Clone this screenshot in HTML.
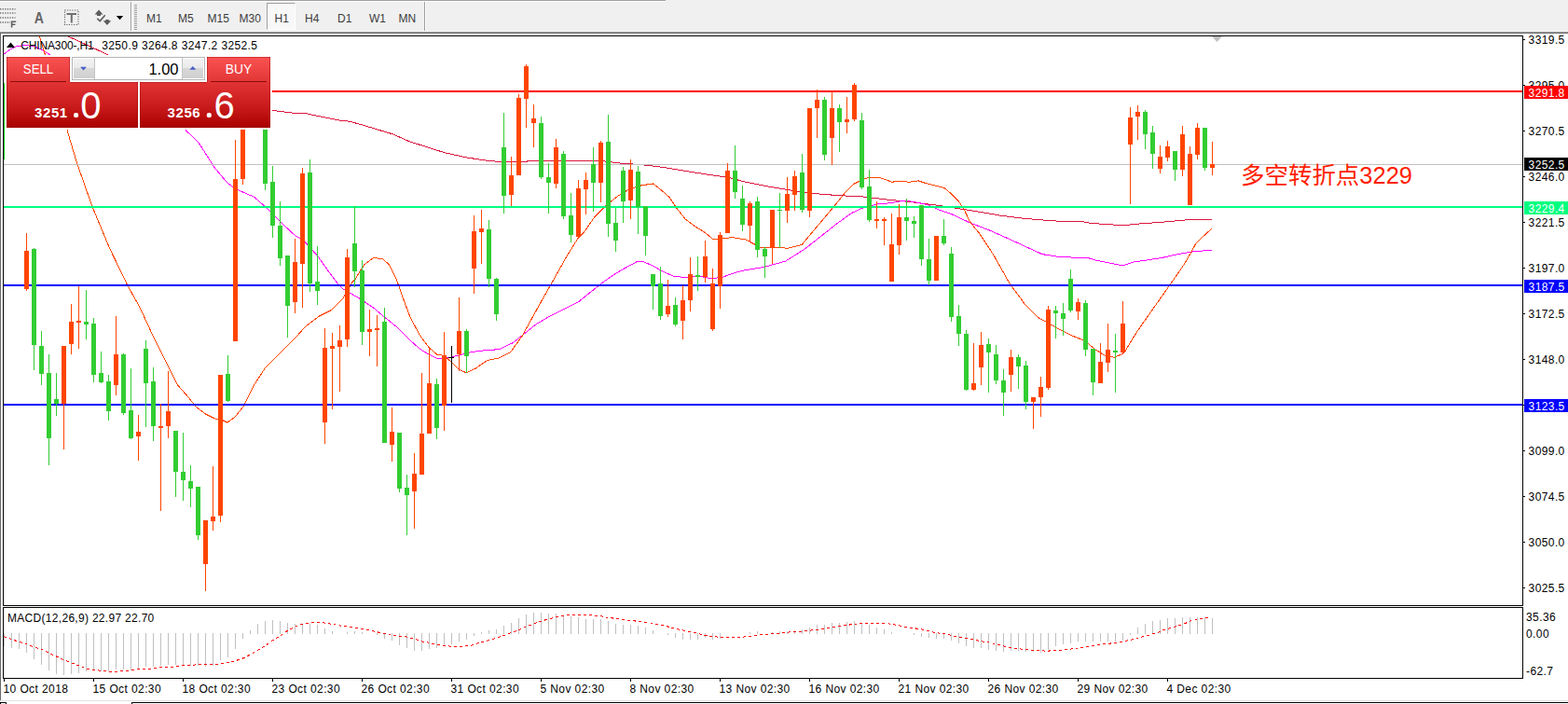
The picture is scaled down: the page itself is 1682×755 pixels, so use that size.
<!DOCTYPE html>
<html><head><meta charset="utf-8"><title>CHINA300-,H1</title>
<style>
html,body{margin:0;padding:0;}
body{width:1682px;height:755px;overflow:hidden;background:#f0f0f0;position:relative;font-family:"Liberation Sans",sans-serif;}
.abs{position:absolute;}
.t{position:absolute;white-space:nowrap;color:#000;font-size:12px;line-height:14px;}
.tb{position:absolute;white-space:nowrap;color:#3c3c3c;font-size:12px;line-height:14px;top:12.5px;}
.ax{position:absolute;white-space:nowrap;color:#000;font-size:12px;line-height:14px;left:1639.6px;letter-spacing:0.4px;}
.lab{position:absolute;left:1635px;width:47px;height:14px;color:#fff;font-size:12px;line-height:13px;white-space:nowrap;letter-spacing:0.4px;}
.lab span{position:absolute;left:4.6px;top:1.5px;}
.dt{position:absolute;white-space:nowrap;color:#000;font-size:12px;line-height:14px;top:732px;letter-spacing:0.4px;}
</style></head><body>

<div class="abs" style="left:0;top:0;width:714px;height:1px;background:#a0a0a0"></div>
<div class="abs" style="left:0;top:1px;width:714px;height:1px;background:#fff"></div>
<div class="abs" style="left:0;top:33px;width:1682px;height:1px;background:#f5f5f5"></div>
<div class="abs" style="left:0;top:34px;width:1682px;height:1px;background:#a0a0a0"></div>
<div class="abs" style="left:0;top:35px;width:1682px;height:1px;background:#696969"></div>
<div class="abs" style="left:0;top:36px;width:1682px;height:716px;background:#fff"></div>
<div class="abs" style="left:0;top:36px;width:1px;height:715px;background:#696969"></div>
<div class="abs" style="left:0;top:751px;width:1682px;height:1px;background:#e3e3e3"></div>
<div class="abs" style="left:0;top:752px;width:1682px;height:1px;background:#fff"></div>
<div class="abs" style="left:0;top:753px;width:1682px;height:2px;background:#fff"></div>
<div class="abs" style="left:0;top:753px;width:7px;height:2px;border:1px solid #000;border-bottom:0;box-sizing:border-box;background:#fff"></div>
<div class="abs" style="left:141px;top:753px;width:1541px;height:2px;border:1px solid #000;border-bottom:0;border-right:0;box-sizing:border-box;background:#fff"></div>
<div class="abs" style="left:140px;top:2px;width:1px;height:31px;background:#a0a0a0"></div><div class="abs" style="left:141px;top:2px;width:1px;height:31px;background:#fff"></div>
<div class="abs" style="left:455px;top:2px;width:1px;height:31px;background:#a0a0a0"></div><div class="abs" style="left:456px;top:2px;width:1px;height:31px;background:#fff"></div>
<div class="abs" style="left:144px;top:5px;width:3px;height:28px;background:repeating-linear-gradient(to bottom,#a0a0a0 0,#a0a0a0 1px,transparent 1px,transparent 2px)"></div>
<div class="abs" style="left:286px;top:3px;width:31px;height:29px;box-sizing:border-box;border:1px solid;border-color:#a0a0a0 #fff #fff #a0a0a0;background:#f8f8f8"></div>
<div class="tb" style="left:157px">M1</div>
<div class="tb" style="left:191px">M5</div>
<div class="tb" style="left:222.5px">M15</div>
<div class="tb" style="left:256.5px">M30</div>
<div class="tb" style="left:294.5px">H1</div>
<div class="tb" style="left:327px">H4</div>
<div class="tb" style="left:362px">D1</div>
<div class="tb" style="left:396px">W1</div>
<div class="tb" style="left:427.5px">MN</div>
<svg class="abs" style="left:0;top:0" width="140" height="34" viewBox="0 0 140 34">
<g stroke="#707070" stroke-width="1.4" stroke-dasharray="1.3 1.3" fill="none">
<line x1="0" y1="9.7" x2="16.5" y2="9.7"/><line x1="0" y1="14" x2="16.5" y2="14"/><line x1="0" y1="19" x2="16.5" y2="19"/><line x1="0" y1="24" x2="11" y2="24"/></g>
<path d="M12.6 29.4V23.2H17.2M12.6 26.3H16.4" stroke="#606060" stroke-width="1.6" fill="none"/>
<text x="36.8" y="24.5" font-family="Liberation Sans, sans-serif" font-weight="bold" font-size="17" fill="#666" textLength="10.2" lengthAdjust="spacingAndGlyphs">A</text>
<rect x="69.5" y="11" width="14.5" height="15.5" fill="none" stroke="#606060" stroke-width="1.1" stroke-dasharray="1.2 1.4"/>
<path d="M71.5 15H82M76.8 15V24.6" stroke="#707070" stroke-width="2" fill="none"/>
<path d="M101.6 15.6 L106 10.4 L110.5 15.6 H108 V16.9 H104 V15.6 Z" fill="#5c5c5c"/>
<path d="M110.7 22.2 H113.3 V20.9 H116.8 V22.2 H119.2 L114.9 26.9 Z" fill="#5c5c5c"/>
<path d="M104.3 19.8 L107.3 22.6 L112.7 16.2" stroke="#5c5c5c" stroke-width="1.6" fill="none"/>
<path d="M124.8 17 H132.2 L128.5 21.3Z" fill="#000"/>
</svg>
<svg class="abs" style="left:0;top:0" width="1682" height="755" viewBox="0 0 1682 755">
<defs><clipPath id="cm"><rect x="4" y="39" width="1629" height="610"/></clipPath></defs>
<g shape-rendering="crispEdges"><rect x="3" y="38" width="1631" height="1" fill="#000"/><rect x="3" y="649" width="1631" height="1" fill="#000"/><rect x="3" y="38" width="1" height="612" fill="#000"/><rect x="1633" y="38" width="1" height="612" fill="#000"/><rect x="3" y="651" width="1631" height="1" fill="#000"/><rect x="3" y="727" width="1631" height="1" fill="#000"/><rect x="3" y="651" width="1" height="77" fill="#000"/><rect x="1633" y="651" width="1" height="77" fill="#000"/><rect x="1634" y="42" width="2" height="1" fill="#000"/><rect x="1634" y="91" width="2" height="1" fill="#000"/><rect x="1634" y="140" width="2" height="1" fill="#000"/><rect x="1634" y="189" width="2" height="1" fill="#000"/><rect x="1634" y="238" width="2" height="1" fill="#000"/><rect x="1634" y="287" width="2" height="1" fill="#000"/><rect x="1634" y="336" width="2" height="1" fill="#000"/><rect x="1634" y="385" width="2" height="1" fill="#000"/><rect x="1634" y="434" width="2" height="1" fill="#000"/><rect x="1634" y="483" width="2" height="1" fill="#000"/><rect x="1634" y="532" width="2" height="1" fill="#000"/><rect x="1634" y="581" width="2" height="1" fill="#000"/><rect x="1634" y="630" width="2" height="1" fill="#000"/><rect x="4" y="728" width="1" height="3" fill="#000"/><rect x="100" y="728" width="1" height="3" fill="#000"/><rect x="196" y="728" width="1" height="3" fill="#000"/><rect x="292" y="728" width="1" height="3" fill="#000"/><rect x="388" y="728" width="1" height="3" fill="#000"/><rect x="484" y="728" width="1" height="3" fill="#000"/><rect x="580" y="728" width="1" height="3" fill="#000"/><rect x="676" y="728" width="1" height="3" fill="#000"/><rect x="772" y="728" width="1" height="3" fill="#000"/><rect x="868" y="728" width="1" height="3" fill="#000"/><rect x="964" y="728" width="1" height="3" fill="#000"/><rect x="1060" y="728" width="1" height="3" fill="#000"/><rect x="1156" y="728" width="1" height="3" fill="#000"/><rect x="1252" y="728" width="1" height="3" fill="#000"/></g>
<g clip-path="url(#cm)">
<g shape-rendering="crispEdges"><polyline points="73.2,39.0 120.0,60.7" fill="none" stroke="#dc143c" stroke-width="1.0" stroke-linejoin="round"/><polyline points="292.0,118.4 313.4,121.1 326.7,121.4 346.7,125.6 363.4,128.9 375.1,130.3 388.5,133.9 405.1,139.0 421.8,144.0 438.5,151.5 457.6,157.6 477.6,163.9 500.1,168.9 520.2,171.9 535.2,173.4 555.2,173.9 570.2,172.6 590.2,172.1 637.8,172.1 650.3,173.1 665.3,175.1 687.9,176.6 712.9,179.6 737.9,183.9 763.0,187.7 780.5,190.2 800.0,195.2 825.0,200.2 850.0,204.4 875.1,207.7 900.1,209.7 925.2,210.9 950.2,213.9 975.2,216.4 1009.0,220.7 1025.3,223.2 1050.3,227.2 1075.3,231.5 1100.4,234.5 1125.4,236.5 1140.0,237.5 1160.3,237.5 1169.8,239.3 1185.3,240.5 1202.0,241.5 1206.7,241.5 1223.4,239.9 1240.1,238.7 1255.6,237.5 1265.1,236.4 1280.6,235.4 1299.7,235.4" fill="none" stroke="#dc143c" stroke-width="1.0" stroke-linejoin="round"/><polyline points="4.0,58.1 10.0,53.6 16.1,50.1 23.2,48.9 30.2,48.9 37.2,50.1 43.3,52.6 50.3,56.6 55.0,59.5" fill="none" stroke="#ff00ff" stroke-width="1.0" stroke-linejoin="round"/><polyline points="199.0,139.5 212.8,152.5 230.3,180.0 244.0,196.3 252.8,202.6 272.8,211.4 285.4,222.6 300.4,237.6 316.6,252.7 325.4,257.7 340.4,274.0 355.4,295.2 363.0,305.2 368.0,310.0 385.5,320.0 400.5,330.0 412.5,340.1 425.0,350.2 437.5,362.7 450.0,373.9 460.0,380.2 468.8,384.4 480.1,383.9 490.1,381.4 505.1,377.7 520.2,375.7 535.2,374.7 550.2,367.7 562.7,357.7 575.2,347.6 590.2,338.9 605.3,331.4 620.3,323.9 632.8,313.9 645.3,303.8 657.8,295.1 670.3,287.6 682.9,280.8 690.4,280.8 700.4,285.1 712.9,292.1 722.9,296.3 735.4,297.6 750.4,296.3 763.0,298.8 775.5,297.1 788.0,292.6 800.0,289.6 820.0,286.3 842.6,280.1 862.6,267.5 880.1,253.8 897.6,240.0 911.4,230.0 915.1,227.7 925.2,223.2 940.2,219.0 955.2,217.7 970.2,215.2 980.2,216.4 995.2,219.7 1007.8,225.2 1021.5,230.0 1040.3,238.8 1062.8,247.5 1087.9,258.8 1117.9,272.6 1137.9,275.8 1166.2,276.3 1175.8,279.3 1191.3,282.2 1202.0,284.4 1205.6,284.4 1216.3,281.0 1231.8,278.7 1247.3,276.3 1264.0,272.5 1280.6,269.7 1299.7,268.3" fill="none" stroke="#ff00ff" stroke-width="1.0" stroke-linejoin="round"/><polyline points="42.3,39.0 48.8,60.0" fill="none" stroke="#ff4500" stroke-width="1.0" stroke-linejoin="round"/><polyline points="72.0,139.5 82.6,175.0 98.9,221.4 117.6,266.4 136.4,305.2 144.0,319.0 150.2,330.0 165.2,362.6 180.2,392.6 190.2,412.6 200.3,423.9 210.3,436.4 220.3,443.9 230.3,448.9 237.8,450.2 244.0,453.2 252.8,446.4 261.6,435.2 272.8,412.6 284.1,395.1 300.4,378.8 315.4,363.8 327.9,350.0 342.9,338.8 355.4,332.5 368.0,320.0 378.0,302.5 380.5,300.2 390.5,284.0 400.5,276.4 410.5,277.7 417.5,283.8 425.0,298.8 432.5,320.1 440.0,340.1 450.0,358.9 460.0,372.7 468.8,380.2 476.3,381.4 485.1,389.0 492.6,396.5 500.1,399.7 510.1,395.2 522.7,386.4 535.2,383.9 547.7,377.7 560.2,360.2 572.7,337.6 585.2,315.1 595.2,297.6 607.8,275.1 620.3,255.0 626.5,249.0 637.8,232.7 650.3,220.2 662.8,210.2 675.3,202.7 687.9,198.9 700.4,196.9 707.9,202.7 717.9,211.4 725.4,222.7 735.4,235.2 745.4,242.7 755.4,248.8 765.5,257.0 773.0,256.3 785.5,254.5 800.0,257.0 815.0,265.0 830.0,265.0 845.1,266.3 860.1,262.5 872.6,247.5 885.1,232.7 897.6,217.7 907.6,205.2 915.1,197.7 925.2,192.7 932.7,190.2 942.7,190.2 950.2,192.7 956.4,195.2 965.2,194.4 975.2,195.2 985.2,193.9 992.7,196.4 1002.8,198.9 1012.8,201.4 1020.3,207.7 1027.8,215.2 1034.0,224.0 1040.3,237.7 1050.3,250.0 1065.3,272.6 1082.9,303.8 1100.4,327.6 1112.9,340.1 1122.9,345.6 1135.4,352.7 1150.4,360.2 1163.0,365.2 1175.5,375.2 1185.5,381.4 1195.5,383.2 1205.5,378.9 1213.0,366.4 1220.0,355.2 1266.3,289.4 1271.1,282.2 1277.1,271.5 1283.0,260.8 1289.0,255.1 1299.7,245.3" fill="none" stroke="#ff4500" stroke-width="1.0" stroke-linejoin="round"/></g>
<g shape-rendering="crispEdges"><rect x="4" y="176" width="1629" height="1" fill="#c0c0c0"/><rect x="292" y="97" width="1341" height="2" fill="#ff0000"/><rect x="4" y="221" width="1629" height="2" fill="#00ff7f"/><rect x="4" y="305" width="1629" height="2" fill="#0000ff"/><rect x="4" y="433" width="1629" height="2" fill="#0000ff"/></g>
<g shape-rendering="crispEdges"><rect x="4" y="89" width="1" height="82" fill="#00c800"/><rect x="28" y="250" width="1" height="62" fill="#ff4500"/><rect x="26" y="269" width="5" height="41" fill="#ff4500"/><rect x="36" y="266" width="1" height="131" fill="#32cd32"/><rect x="34" y="267" width="5" height="103" fill="#32cd32"/><rect x="44" y="355" width="1" height="58" fill="#32cd32"/><rect x="42" y="371" width="5" height="30" fill="#32cd32"/><rect x="52" y="380" width="1" height="119" fill="#32cd32"/><rect x="50" y="400" width="5" height="70" fill="#32cd32"/><rect x="60" y="400" width="1" height="46" fill="#32cd32"/><rect x="58" y="428" width="5" height="5" fill="#32cd32"/><rect x="68" y="371" width="1" height="111" fill="#ff4500"/><rect x="66" y="371" width="5" height="62" fill="#ff4500"/><rect x="76" y="326" width="1" height="54" fill="#ff4500"/><rect x="74" y="345" width="5" height="24" fill="#ff4500"/><rect x="84" y="307" width="1" height="67" fill="#ff4500"/><rect x="82" y="344" width="5" height="2" fill="#ff4500"/><rect x="92" y="311" width="1" height="53" fill="#32cd32"/><rect x="90" y="345" width="5" height="3" fill="#32cd32"/><rect x="100" y="341" width="1" height="69" fill="#32cd32"/><rect x="98" y="347" width="5" height="55" fill="#32cd32"/><rect x="108" y="377" width="1" height="34" fill="#32cd32"/><rect x="106" y="400" width="5" height="10" fill="#32cd32"/><rect x="116" y="402" width="1" height="49" fill="#32cd32"/><rect x="114" y="409" width="5" height="32" fill="#32cd32"/><rect x="124" y="339" width="1" height="85" fill="#ff4500"/><rect x="122" y="380" width="5" height="33" fill="#ff4500"/><rect x="132" y="379" width="1" height="66" fill="#32cd32"/><rect x="130" y="380" width="5" height="63" fill="#32cd32"/><rect x="140" y="395" width="1" height="76" fill="#32cd32"/><rect x="138" y="440" width="5" height="30" fill="#32cd32"/><rect x="148" y="445" width="1" height="49" fill="#ff4500"/><rect x="146" y="463" width="5" height="5" fill="#ff4500"/><rect x="156" y="365" width="1" height="93" fill="#32cd32"/><rect x="154" y="374" width="5" height="37" fill="#32cd32"/><rect x="164" y="394" width="1" height="79" fill="#32cd32"/><rect x="162" y="409" width="5" height="48" fill="#32cd32"/><rect x="172" y="433" width="1" height="115" fill="#ff4500"/><rect x="170" y="457" width="5" height="2" fill="#ff4500"/><rect x="180" y="398" width="1" height="72" fill="#ff4500"/><rect x="178" y="441" width="5" height="16" fill="#ff4500"/><rect x="188" y="462" width="1" height="71" fill="#32cd32"/><rect x="186" y="462" width="5" height="44" fill="#32cd32"/><rect x="196" y="464" width="1" height="73" fill="#32cd32"/><rect x="194" y="506" width="5" height="9" fill="#32cd32"/><rect x="204" y="499" width="1" height="45" fill="#32cd32"/><rect x="202" y="516" width="5" height="8" fill="#32cd32"/><rect x="212" y="522" width="1" height="57" fill="#32cd32"/><rect x="210" y="522" width="5" height="52" fill="#32cd32"/><rect x="220" y="558" width="1" height="76" fill="#ff4500"/><rect x="218" y="558" width="5" height="47" fill="#ff4500"/><rect x="228" y="500" width="1" height="69" fill="#ff4500"/><rect x="226" y="554" width="5" height="5" fill="#ff4500"/><rect x="236" y="402" width="1" height="158" fill="#ff4500"/><rect x="234" y="402" width="5" height="151" fill="#ff4500"/><rect x="244" y="381" width="1" height="50" fill="#32cd32"/><rect x="242" y="401" width="5" height="29" fill="#32cd32"/><rect x="252" y="150" width="1" height="216" fill="#ff4500"/><rect x="250" y="192" width="5" height="174" fill="#ff4500"/><rect x="260" y="100" width="1" height="98" fill="#ff4500"/><rect x="258" y="110" width="5" height="82" fill="#ff4500"/><rect x="284" y="110" width="1" height="94" fill="#32cd32"/><rect x="282" y="120" width="5" height="77" fill="#32cd32"/><rect x="292" y="178" width="1" height="77" fill="#32cd32"/><rect x="290" y="195" width="5" height="47" fill="#32cd32"/><rect x="300" y="216" width="1" height="69" fill="#32cd32"/><rect x="298" y="242" width="5" height="35" fill="#32cd32"/><rect x="308" y="274" width="1" height="88" fill="#32cd32"/><rect x="306" y="274" width="5" height="54" fill="#32cd32"/><rect x="316" y="256" width="1" height="80" fill="#ff4500"/><rect x="314" y="281" width="5" height="43" fill="#ff4500"/><rect x="324" y="180" width="1" height="150" fill="#ff4500"/><rect x="322" y="186" width="5" height="97" fill="#ff4500"/><rect x="332" y="171" width="1" height="142" fill="#32cd32"/><rect x="330" y="185" width="5" height="119" fill="#32cd32"/><rect x="340" y="264" width="1" height="63" fill="#32cd32"/><rect x="338" y="302" width="5" height="10" fill="#32cd32"/><rect x="348" y="352" width="1" height="124" fill="#ff4500"/><rect x="346" y="373" width="5" height="80" fill="#ff4500"/><rect x="356" y="357" width="1" height="82" fill="#ff4500"/><rect x="354" y="371" width="5" height="3" fill="#ff4500"/><rect x="364" y="349" width="1" height="71" fill="#ff4500"/><rect x="362" y="365" width="5" height="7" fill="#ff4500"/><rect x="372" y="267" width="1" height="105" fill="#ff4500"/><rect x="370" y="276" width="5" height="88" fill="#ff4500"/><rect x="380" y="221" width="1" height="87" fill="#32cd32"/><rect x="378" y="261" width="5" height="30" fill="#32cd32"/><rect x="388" y="279" width="1" height="91" fill="#32cd32"/><rect x="386" y="290" width="5" height="66" fill="#32cd32"/><rect x="396" y="332" width="1" height="50" fill="#ff4500"/><rect x="394" y="353" width="5" height="3" fill="#ff4500"/><rect x="404" y="338" width="1" height="55" fill="#ff4500"/><rect x="402" y="352" width="5" height="2" fill="#ff4500"/><rect x="412" y="330" width="1" height="145" fill="#32cd32"/><rect x="410" y="345" width="5" height="130" fill="#32cd32"/><rect x="420" y="437" width="1" height="58" fill="#ff4500"/><rect x="418" y="463" width="5" height="14" fill="#ff4500"/><rect x="428" y="464" width="1" height="64" fill="#32cd32"/><rect x="426" y="464" width="5" height="60" fill="#32cd32"/><rect x="436" y="509" width="1" height="65" fill="#32cd32"/><rect x="434" y="523" width="5" height="8" fill="#32cd32"/><rect x="444" y="486" width="1" height="81" fill="#ff4500"/><rect x="442" y="508" width="5" height="19" fill="#ff4500"/><rect x="452" y="400" width="1" height="109" fill="#ff4500"/><rect x="450" y="465" width="5" height="44" fill="#ff4500"/><rect x="460" y="374" width="1" height="91" fill="#ff4500"/><rect x="458" y="411" width="5" height="54" fill="#ff4500"/><rect x="468" y="406" width="1" height="65" fill="#32cd32"/><rect x="466" y="412" width="5" height="47" fill="#32cd32"/><rect x="476" y="356" width="1" height="106" fill="#ff4500"/><rect x="474" y="381" width="5" height="54" fill="#ff4500"/><rect x="484" y="371" width="1" height="61" fill="#000"/><rect x="481" y="383" width="6" height="1" fill="#000"/><rect x="492" y="319" width="1" height="79" fill="#ff4500"/><rect x="490" y="355" width="5" height="25" fill="#ff4500"/><rect x="500" y="353" width="1" height="47" fill="#32cd32"/><rect x="498" y="355" width="5" height="27" fill="#32cd32"/><rect x="508" y="231" width="1" height="84" fill="#ff4500"/><rect x="506" y="248" width="5" height="40" fill="#ff4500"/><rect x="516" y="225" width="1" height="58" fill="#ff4500"/><rect x="514" y="245" width="5" height="4" fill="#ff4500"/><rect x="524" y="236" width="1" height="72" fill="#32cd32"/><rect x="522" y="246" width="5" height="53" fill="#32cd32"/><rect x="532" y="298" width="1" height="46" fill="#32cd32"/><rect x="530" y="299" width="5" height="38" fill="#32cd32"/><rect x="540" y="121" width="1" height="108" fill="#32cd32"/><rect x="538" y="158" width="5" height="52" fill="#32cd32"/><rect x="548" y="168" width="1" height="53" fill="#ff4500"/><rect x="546" y="188" width="5" height="21" fill="#ff4500"/><rect x="556" y="101" width="1" height="87" fill="#ff4500"/><rect x="554" y="105" width="5" height="83" fill="#ff4500"/><rect x="564" y="69" width="1" height="68" fill="#ff4500"/><rect x="562" y="71" width="5" height="35" fill="#ff4500"/><rect x="572" y="112" width="1" height="46" fill="#ff4500"/><rect x="570" y="127" width="5" height="5" fill="#ff4500"/><rect x="580" y="125" width="1" height="67" fill="#32cd32"/><rect x="578" y="132" width="5" height="58" fill="#32cd32"/><rect x="588" y="175" width="1" height="54" fill="#32cd32"/><rect x="586" y="190" width="5" height="6" fill="#32cd32"/><rect x="596" y="149" width="1" height="53" fill="#ff4500"/><rect x="594" y="158" width="5" height="39" fill="#ff4500"/><rect x="604" y="162" width="1" height="73" fill="#32cd32"/><rect x="602" y="165" width="5" height="67" fill="#32cd32"/><rect x="612" y="207" width="1" height="53" fill="#32cd32"/><rect x="610" y="231" width="5" height="21" fill="#32cd32"/><rect x="620" y="193" width="1" height="61" fill="#ff4500"/><rect x="618" y="202" width="5" height="52" fill="#ff4500"/><rect x="628" y="185" width="1" height="45" fill="#ff4500"/><rect x="626" y="193" width="5" height="10" fill="#ff4500"/><rect x="636" y="158" width="1" height="69" fill="#32cd32"/><rect x="634" y="176" width="5" height="20" fill="#32cd32"/><rect x="644" y="151" width="1" height="66" fill="#ff4500"/><rect x="642" y="153" width="5" height="43" fill="#ff4500"/><rect x="652" y="123" width="1" height="131" fill="#32cd32"/><rect x="650" y="152" width="5" height="88" fill="#32cd32"/><rect x="660" y="223" width="1" height="47" fill="#32cd32"/><rect x="658" y="239" width="5" height="19" fill="#32cd32"/><rect x="668" y="179" width="1" height="60" fill="#32cd32"/><rect x="666" y="183" width="5" height="33" fill="#32cd32"/><rect x="676" y="171" width="1" height="64" fill="#ff4500"/><rect x="674" y="182" width="5" height="33" fill="#ff4500"/><rect x="684" y="178" width="1" height="73" fill="#32cd32"/><rect x="682" y="184" width="5" height="38" fill="#32cd32"/><rect x="692" y="221" width="1" height="53" fill="#32cd32"/><rect x="690" y="221" width="5" height="32" fill="#32cd32"/><rect x="700" y="294" width="1" height="38" fill="#32cd32"/><rect x="698" y="294" width="5" height="13" fill="#32cd32"/><rect x="708" y="286" width="1" height="57" fill="#32cd32"/><rect x="706" y="304" width="5" height="35" fill="#32cd32"/><rect x="716" y="300" width="1" height="40" fill="#ff4500"/><rect x="714" y="328" width="5" height="9" fill="#ff4500"/><rect x="724" y="319" width="1" height="31" fill="#32cd32"/><rect x="722" y="327" width="5" height="21" fill="#32cd32"/><rect x="732" y="306" width="1" height="58" fill="#ff4500"/><rect x="730" y="322" width="5" height="22" fill="#ff4500"/><rect x="740" y="276" width="1" height="58" fill="#ff4500"/><rect x="738" y="294" width="5" height="28" fill="#ff4500"/><rect x="748" y="275" width="1" height="37" fill="#32cd32"/><rect x="746" y="295" width="5" height="2" fill="#32cd32"/><rect x="756" y="258" width="1" height="45" fill="#ff4500"/><rect x="754" y="275" width="5" height="22" fill="#ff4500"/><rect x="764" y="288" width="1" height="67" fill="#ff4500"/><rect x="762" y="304" width="5" height="49" fill="#ff4500"/><rect x="772" y="249" width="1" height="82" fill="#ff4500"/><rect x="770" y="252" width="5" height="55" fill="#ff4500"/><rect x="780" y="175" width="1" height="75" fill="#ff4500"/><rect x="778" y="183" width="5" height="67" fill="#ff4500"/><rect x="788" y="156" width="1" height="57" fill="#32cd32"/><rect x="786" y="183" width="5" height="23" fill="#32cd32"/><rect x="796" y="199" width="1" height="49" fill="#32cd32"/><rect x="794" y="213" width="5" height="28" fill="#32cd32"/><rect x="804" y="216" width="1" height="43" fill="#ff4500"/><rect x="802" y="218" width="5" height="24" fill="#ff4500"/><rect x="812" y="211" width="1" height="65" fill="#32cd32"/><rect x="810" y="216" width="5" height="52" fill="#32cd32"/><rect x="820" y="265" width="1" height="33" fill="#32cd32"/><rect x="818" y="267" width="5" height="8" fill="#32cd32"/><rect x="828" y="225" width="1" height="58" fill="#ff4500"/><rect x="826" y="225" width="5" height="41" fill="#ff4500"/><rect x="836" y="207" width="1" height="59" fill="#32cd32"/><rect x="834" y="225" width="5" height="1" fill="#32cd32"/><rect x="844" y="190" width="1" height="49" fill="#ff4500"/><rect x="842" y="208" width="5" height="18" fill="#ff4500"/><rect x="852" y="183" width="1" height="43" fill="#ff4500"/><rect x="850" y="189" width="5" height="20" fill="#ff4500"/><rect x="860" y="165" width="1" height="63" fill="#32cd32"/><rect x="858" y="185" width="5" height="40" fill="#32cd32"/><rect x="868" y="116" width="1" height="117" fill="#ff4500"/><rect x="866" y="116" width="5" height="110" fill="#ff4500"/><rect x="876" y="96" width="1" height="52" fill="#ff4500"/><rect x="874" y="107" width="5" height="9" fill="#ff4500"/><rect x="884" y="104" width="1" height="68" fill="#32cd32"/><rect x="882" y="107" width="5" height="59" fill="#32cd32"/><rect x="892" y="97" width="1" height="80" fill="#ff4500"/><rect x="890" y="116" width="5" height="32" fill="#ff4500"/><rect x="900" y="112" width="1" height="51" fill="#32cd32"/><rect x="898" y="116" width="5" height="15" fill="#32cd32"/><rect x="908" y="104" width="1" height="39" fill="#ff4500"/><rect x="906" y="128" width="5" height="3" fill="#ff4500"/><rect x="916" y="89" width="1" height="41" fill="#ff4500"/><rect x="914" y="91" width="5" height="37" fill="#ff4500"/><rect x="924" y="121" width="1" height="82" fill="#32cd32"/><rect x="922" y="129" width="5" height="72" fill="#32cd32"/><rect x="932" y="182" width="1" height="56" fill="#32cd32"/><rect x="930" y="200" width="5" height="36" fill="#32cd32"/><rect x="940" y="216" width="1" height="29" fill="#ff4500"/><rect x="938" y="235" width="5" height="2" fill="#ff4500"/><rect x="948" y="233" width="1" height="30" fill="#ff4500"/><rect x="946" y="235" width="5" height="2" fill="#ff4500"/><rect x="956" y="229" width="1" height="73" fill="#ff4500"/><rect x="954" y="262" width="5" height="40" fill="#ff4500"/><rect x="964" y="219" width="1" height="54" fill="#ff4500"/><rect x="962" y="233" width="5" height="30" fill="#ff4500"/><rect x="972" y="213" width="1" height="45" fill="#32cd32"/><rect x="970" y="233" width="5" height="4" fill="#32cd32"/><rect x="980" y="232" width="1" height="23" fill="#32cd32"/><rect x="978" y="237" width="5" height="3" fill="#32cd32"/><rect x="988" y="220" width="1" height="65" fill="#32cd32"/><rect x="986" y="220" width="5" height="58" fill="#32cd32"/><rect x="996" y="256" width="1" height="50" fill="#32cd32"/><rect x="994" y="278" width="5" height="23" fill="#32cd32"/><rect x="1004" y="253" width="1" height="48" fill="#ff4500"/><rect x="1002" y="253" width="5" height="48" fill="#ff4500"/><rect x="1012" y="235" width="1" height="28" fill="#32cd32"/><rect x="1010" y="253" width="5" height="8" fill="#32cd32"/><rect x="1020" y="265" width="1" height="80" fill="#32cd32"/><rect x="1018" y="272" width="5" height="68" fill="#32cd32"/><rect x="1028" y="327" width="1" height="44" fill="#32cd32"/><rect x="1026" y="339" width="5" height="19" fill="#32cd32"/><rect x="1036" y="354" width="1" height="65" fill="#32cd32"/><rect x="1034" y="358" width="5" height="60" fill="#32cd32"/><rect x="1044" y="368" width="1" height="51" fill="#ff4500"/><rect x="1042" y="411" width="5" height="7" fill="#ff4500"/><rect x="1052" y="356" width="1" height="57" fill="#ff4500"/><rect x="1050" y="370" width="5" height="24" fill="#ff4500"/><rect x="1060" y="363" width="1" height="58" fill="#32cd32"/><rect x="1058" y="369" width="5" height="9" fill="#32cd32"/><rect x="1068" y="370" width="1" height="42" fill="#32cd32"/><rect x="1066" y="380" width="5" height="28" fill="#32cd32"/><rect x="1076" y="396" width="1" height="50" fill="#32cd32"/><rect x="1074" y="408" width="5" height="13" fill="#32cd32"/><rect x="1084" y="375" width="1" height="45" fill="#ff4500"/><rect x="1082" y="383" width="5" height="19" fill="#ff4500"/><rect x="1092" y="380" width="1" height="37" fill="#32cd32"/><rect x="1090" y="383" width="5" height="10" fill="#32cd32"/><rect x="1100" y="387" width="1" height="52" fill="#32cd32"/><rect x="1098" y="392" width="5" height="39" fill="#32cd32"/><rect x="1108" y="426" width="1" height="34" fill="#ff4500"/><rect x="1106" y="426" width="5" height="5" fill="#ff4500"/><rect x="1116" y="404" width="1" height="43" fill="#ff4500"/><rect x="1114" y="415" width="5" height="11" fill="#ff4500"/><rect x="1124" y="328" width="1" height="90" fill="#ff4500"/><rect x="1122" y="332" width="5" height="84" fill="#ff4500"/><rect x="1132" y="328" width="1" height="35" fill="#32cd32"/><rect x="1130" y="333" width="5" height="3" fill="#32cd32"/><rect x="1140" y="325" width="1" height="35" fill="#32cd32"/><rect x="1138" y="336" width="5" height="6" fill="#32cd32"/><rect x="1148" y="289" width="1" height="46" fill="#32cd32"/><rect x="1146" y="299" width="5" height="34" fill="#32cd32"/><rect x="1156" y="320" width="1" height="23" fill="#ff4500"/><rect x="1154" y="324" width="5" height="10" fill="#ff4500"/><rect x="1164" y="322" width="1" height="60" fill="#32cd32"/><rect x="1162" y="325" width="5" height="50" fill="#32cd32"/><rect x="1172" y="374" width="1" height="50" fill="#32cd32"/><rect x="1170" y="374" width="5" height="36" fill="#32cd32"/><rect x="1180" y="368" width="1" height="43" fill="#ff4500"/><rect x="1178" y="388" width="5" height="23" fill="#ff4500"/><rect x="1188" y="347" width="1" height="52" fill="#ff4500"/><rect x="1186" y="375" width="5" height="14" fill="#ff4500"/><rect x="1196" y="358" width="1" height="63" fill="#32cd32"/><rect x="1194" y="376" width="5" height="2" fill="#32cd32"/><rect x="1204" y="323" width="1" height="57" fill="#ff4500"/><rect x="1202" y="347" width="5" height="31" fill="#ff4500"/><rect x="1212" y="115" width="1" height="104" fill="#ff4500"/><rect x="1210" y="126" width="5" height="29" fill="#ff4500"/><rect x="1220" y="113" width="1" height="37" fill="#ff4500"/><rect x="1218" y="120" width="5" height="5" fill="#ff4500"/><rect x="1228" y="118" width="1" height="42" fill="#32cd32"/><rect x="1226" y="120" width="5" height="24" fill="#32cd32"/><rect x="1236" y="135" width="1" height="46" fill="#32cd32"/><rect x="1234" y="142" width="5" height="23" fill="#32cd32"/><rect x="1244" y="156" width="1" height="30" fill="#ff4500"/><rect x="1242" y="168" width="5" height="13" fill="#ff4500"/><rect x="1252" y="151" width="1" height="22" fill="#ff4500"/><rect x="1250" y="157" width="5" height="12" fill="#ff4500"/><rect x="1260" y="162" width="1" height="32" fill="#32cd32"/><rect x="1258" y="162" width="5" height="20" fill="#32cd32"/><rect x="1268" y="135" width="1" height="54" fill="#ff4500"/><rect x="1266" y="144" width="5" height="38" fill="#ff4500"/><rect x="1276" y="157" width="1" height="63" fill="#ff4500"/><rect x="1274" y="165" width="5" height="55" fill="#ff4500"/><rect x="1284" y="132" width="1" height="39" fill="#ff4500"/><rect x="1282" y="137" width="5" height="29" fill="#ff4500"/><rect x="1292" y="137" width="1" height="46" fill="#32cd32"/><rect x="1290" y="137" width="5" height="43" fill="#32cd32"/><rect x="1300" y="152" width="1" height="36" fill="#ff4500"/><rect x="1298" y="176" width="5" height="4" fill="#ff4500"/></g>
<polygon points="1300,39 1311,39 1305.5,45" fill="#c0c0c0"/>
</g>
<g shape-rendering="crispEdges"><rect x="4" y="679" width="1" height="14" fill="#c0c0c0"/><rect x="12" y="679" width="1" height="16" fill="#c0c0c0"/><rect x="20" y="679" width="1" height="17" fill="#c0c0c0"/><rect x="28" y="679" width="1" height="21" fill="#c0c0c0"/><rect x="36" y="679" width="1" height="28" fill="#c0c0c0"/><rect x="44" y="679" width="1" height="34" fill="#c0c0c0"/><rect x="52" y="679" width="1" height="40" fill="#c0c0c0"/><rect x="60" y="679" width="1" height="44" fill="#c0c0c0"/><rect x="68" y="679" width="1" height="45" fill="#c0c0c0"/><rect x="76" y="679" width="1" height="44" fill="#c0c0c0"/><rect x="84" y="679" width="1" height="43" fill="#c0c0c0"/><rect x="92" y="679" width="1" height="41" fill="#c0c0c0"/><rect x="100" y="679" width="1" height="40" fill="#c0c0c0"/><rect x="108" y="679" width="1" height="41" fill="#c0c0c0"/><rect x="116" y="679" width="1" height="41" fill="#c0c0c0"/><rect x="124" y="679" width="1" height="39" fill="#c0c0c0"/><rect x="132" y="679" width="1" height="39" fill="#c0c0c0"/><rect x="140" y="679" width="1" height="40" fill="#c0c0c0"/><rect x="148" y="679" width="1" height="39" fill="#c0c0c0"/><rect x="156" y="679" width="1" height="36" fill="#c0c0c0"/><rect x="164" y="679" width="1" height="36" fill="#c0c0c0"/><rect x="172" y="679" width="1" height="35" fill="#c0c0c0"/><rect x="180" y="679" width="1" height="34" fill="#c0c0c0"/><rect x="188" y="679" width="1" height="34" fill="#c0c0c0"/><rect x="196" y="679" width="1" height="34" fill="#c0c0c0"/><rect x="204" y="679" width="1" height="35" fill="#c0c0c0"/><rect x="212" y="679" width="1" height="35" fill="#c0c0c0"/><rect x="220" y="679" width="1" height="36" fill="#c0c0c0"/><rect x="228" y="679" width="1" height="35" fill="#c0c0c0"/><rect x="236" y="679" width="1" height="29" fill="#c0c0c0"/><rect x="244" y="679" width="1" height="26" fill="#c0c0c0"/><rect x="252" y="679" width="1" height="17" fill="#c0c0c0"/><rect x="260" y="679" width="1" height="6" fill="#c0c0c0"/><rect x="268" y="676" width="1" height="4" fill="#c0c0c0"/><rect x="276" y="669" width="1" height="11" fill="#c0c0c0"/><rect x="284" y="666" width="1" height="14" fill="#c0c0c0"/><rect x="292" y="665" width="1" height="15" fill="#c0c0c0"/><rect x="300" y="666" width="1" height="14" fill="#c0c0c0"/><rect x="308" y="668" width="1" height="12" fill="#c0c0c0"/><rect x="316" y="669" width="1" height="11" fill="#c0c0c0"/><rect x="324" y="669" width="1" height="11" fill="#c0c0c0"/><rect x="332" y="669" width="1" height="11" fill="#c0c0c0"/><rect x="340" y="670" width="1" height="10" fill="#c0c0c0"/><rect x="348" y="674" width="1" height="6" fill="#c0c0c0"/><rect x="356" y="677" width="1" height="3" fill="#c0c0c0"/><rect x="372" y="678" width="1" height="2" fill="#c0c0c0"/><rect x="380" y="677" width="1" height="3" fill="#c0c0c0"/><rect x="388" y="678" width="1" height="2" fill="#c0c0c0"/><rect x="404" y="679" width="1" height="2" fill="#c0c0c0"/><rect x="412" y="679" width="1" height="6" fill="#c0c0c0"/><rect x="420" y="679" width="1" height="8" fill="#c0c0c0"/><rect x="428" y="679" width="1" height="13" fill="#c0c0c0"/><rect x="436" y="679" width="1" height="16" fill="#c0c0c0"/><rect x="444" y="679" width="1" height="19" fill="#c0c0c0"/><rect x="452" y="679" width="1" height="19" fill="#c0c0c0"/><rect x="460" y="679" width="1" height="17" fill="#c0c0c0"/><rect x="468" y="679" width="1" height="16" fill="#c0c0c0"/><rect x="476" y="679" width="1" height="14" fill="#c0c0c0"/><rect x="484" y="679" width="1" height="12" fill="#c0c0c0"/><rect x="492" y="679" width="1" height="9" fill="#c0c0c0"/><rect x="500" y="679" width="1" height="7" fill="#c0c0c0"/><rect x="508" y="679" width="1" height="3" fill="#c0c0c0"/><rect x="516" y="678" width="1" height="2" fill="#c0c0c0"/><rect x="524" y="676" width="1" height="4" fill="#c0c0c0"/><rect x="532" y="675" width="1" height="5" fill="#c0c0c0"/><rect x="540" y="671" width="1" height="9" fill="#c0c0c0"/><rect x="548" y="668" width="1" height="12" fill="#c0c0c0"/><rect x="556" y="663" width="1" height="17" fill="#c0c0c0"/><rect x="564" y="659" width="1" height="21" fill="#c0c0c0"/><rect x="572" y="657" width="1" height="23" fill="#c0c0c0"/><rect x="580" y="657" width="1" height="23" fill="#c0c0c0"/><rect x="588" y="658" width="1" height="22" fill="#c0c0c0"/><rect x="596" y="658" width="1" height="22" fill="#c0c0c0"/><rect x="604" y="660" width="1" height="20" fill="#c0c0c0"/><rect x="612" y="661" width="1" height="19" fill="#c0c0c0"/><rect x="620" y="662" width="1" height="18" fill="#c0c0c0"/><rect x="628" y="664" width="1" height="16" fill="#c0c0c0"/><rect x="636" y="664" width="1" height="16" fill="#c0c0c0"/><rect x="644" y="664" width="1" height="16" fill="#c0c0c0"/><rect x="652" y="666" width="1" height="14" fill="#c0c0c0"/><rect x="660" y="669" width="1" height="11" fill="#c0c0c0"/><rect x="668" y="670" width="1" height="10" fill="#c0c0c0"/><rect x="676" y="670" width="1" height="10" fill="#c0c0c0"/><rect x="684" y="671" width="1" height="9" fill="#c0c0c0"/><rect x="692" y="673" width="1" height="7" fill="#c0c0c0"/><rect x="700" y="676" width="1" height="4" fill="#c0c0c0"/><rect x="716" y="679" width="1" height="2" fill="#c0c0c0"/><rect x="724" y="679" width="1" height="5" fill="#c0c0c0"/><rect x="732" y="679" width="1" height="7" fill="#c0c0c0"/><rect x="740" y="679" width="1" height="7" fill="#c0c0c0"/><rect x="748" y="679" width="1" height="7" fill="#c0c0c0"/><rect x="756" y="679" width="1" height="5" fill="#c0c0c0"/><rect x="764" y="679" width="1" height="7" fill="#c0c0c0"/><rect x="772" y="679" width="1" height="6" fill="#c0c0c0"/><rect x="804" y="678" width="1" height="2" fill="#c0c0c0"/><rect x="812" y="677" width="1" height="3" fill="#c0c0c0"/><rect x="828" y="678" width="1" height="2" fill="#c0c0c0"/><rect x="836" y="677" width="1" height="3" fill="#c0c0c0"/><rect x="844" y="677" width="1" height="3" fill="#c0c0c0"/><rect x="852" y="676" width="1" height="4" fill="#c0c0c0"/><rect x="860" y="675" width="1" height="5" fill="#c0c0c0"/><rect x="868" y="673" width="1" height="7" fill="#c0c0c0"/><rect x="876" y="670" width="1" height="10" fill="#c0c0c0"/><rect x="884" y="670" width="1" height="10" fill="#c0c0c0"/><rect x="892" y="668" width="1" height="12" fill="#c0c0c0"/><rect x="900" y="668" width="1" height="12" fill="#c0c0c0"/><rect x="908" y="667" width="1" height="13" fill="#c0c0c0"/><rect x="916" y="666" width="1" height="14" fill="#c0c0c0"/><rect x="924" y="668" width="1" height="12" fill="#c0c0c0"/><rect x="932" y="670" width="1" height="10" fill="#c0c0c0"/><rect x="940" y="673" width="1" height="7" fill="#c0c0c0"/><rect x="948" y="675" width="1" height="5" fill="#c0c0c0"/><rect x="956" y="678" width="1" height="2" fill="#c0c0c0"/><rect x="980" y="679" width="1" height="2" fill="#c0c0c0"/><rect x="988" y="679" width="1" height="4" fill="#c0c0c0"/><rect x="996" y="679" width="1" height="5" fill="#c0c0c0"/><rect x="1004" y="679" width="1" height="6" fill="#c0c0c0"/><rect x="1012" y="679" width="1" height="6" fill="#c0c0c0"/><rect x="1020" y="679" width="1" height="8" fill="#c0c0c0"/><rect x="1028" y="679" width="1" height="11" fill="#c0c0c0"/><rect x="1036" y="679" width="1" height="14" fill="#c0c0c0"/><rect x="1044" y="679" width="1" height="16" fill="#c0c0c0"/><rect x="1052" y="679" width="1" height="16" fill="#c0c0c0"/><rect x="1060" y="679" width="1" height="18" fill="#c0c0c0"/><rect x="1068" y="679" width="1" height="19" fill="#c0c0c0"/><rect x="1076" y="679" width="1" height="20" fill="#c0c0c0"/><rect x="1084" y="679" width="1" height="19" fill="#c0c0c0"/><rect x="1092" y="679" width="1" height="19" fill="#c0c0c0"/><rect x="1100" y="679" width="1" height="20" fill="#c0c0c0"/><rect x="1108" y="679" width="1" height="20" fill="#c0c0c0"/><rect x="1116" y="679" width="1" height="21" fill="#c0c0c0"/><rect x="1124" y="679" width="1" height="18" fill="#c0c0c0"/><rect x="1132" y="679" width="1" height="14" fill="#c0c0c0"/><rect x="1140" y="679" width="1" height="12" fill="#c0c0c0"/><rect x="1148" y="679" width="1" height="11" fill="#c0c0c0"/><rect x="1156" y="679" width="1" height="9" fill="#c0c0c0"/><rect x="1164" y="679" width="1" height="9" fill="#c0c0c0"/><rect x="1172" y="679" width="1" height="9" fill="#c0c0c0"/><rect x="1180" y="679" width="1" height="9" fill="#c0c0c0"/><rect x="1188" y="679" width="1" height="9" fill="#c0c0c0"/><rect x="1196" y="679" width="1" height="9" fill="#c0c0c0"/><rect x="1204" y="679" width="1" height="8" fill="#c0c0c0"/><rect x="1212" y="679" width="1" height="2" fill="#c0c0c0"/><rect x="1220" y="673" width="1" height="7" fill="#c0c0c0"/><rect x="1228" y="669" width="1" height="11" fill="#c0c0c0"/><rect x="1236" y="666" width="1" height="14" fill="#c0c0c0"/><rect x="1244" y="665" width="1" height="15" fill="#c0c0c0"/><rect x="1252" y="663" width="1" height="17" fill="#c0c0c0"/><rect x="1260" y="663" width="1" height="17" fill="#c0c0c0"/><rect x="1268" y="662" width="1" height="18" fill="#c0c0c0"/><rect x="1276" y="662" width="1" height="18" fill="#c0c0c0"/><rect x="1284" y="662" width="1" height="18" fill="#c0c0c0"/><rect x="1292" y="662" width="1" height="18" fill="#c0c0c0"/><rect x="1300" y="663" width="1" height="17" fill="#c0c0c0"/></g>
<polyline points="4.0,682.5 12.0,685.4 20.0,688.2 28.0,690.7 36.0,693.7 43.9,696.2 51.9,699.9 59.9,703.7 67.9,707.4 75.9,710.4 83.9,713.7 91.9,716.9 99.9,718.4 107.9,719.2 115.9,720.2 123.8,720.2 131.8,719.9 139.8,719.2 147.8,717.9 155.8,717.4 163.8,716.9 171.8,715.7 179.8,715.4 187.8,714.9 195.8,713.9 203.7,713.2 211.7,712.9 219.7,712.9 227.7,712.4 235.7,712.2 243.7,710.9 251.7,708.9 259.7,706.4 267.7,702.4 275.7,697.9 283.6,692.9 291.6,687.4 299.6,682.5 307.6,677.0 315.6,672.5 323.6,669.2 331.6,668.2 339.6,667.5 347.6,668.0 355.6,669.2 363.5,670.7 371.5,672.0 379.5,673.2 387.5,674.2 395.5,675.7 403.5,677.5 411.5,679.5 420.0,681.2 428.0,682.5 436.0,683.0 444.0,685.0 452.0,687.9 460.0,689.2 467.9,691.2 475.9,692.4 483.9,693.2 491.9,693.2 499.9,692.9 507.9,691.7 515.9,688.7 523.9,686.9 531.9,684.5 539.9,681.7 547.8,678.7 555.8,676.2 563.8,672.0 571.8,669.5 579.8,666.2 587.8,664.2 595.8,662.0 603.8,660.7 611.8,659.5 619.8,659.5 627.7,659.5 635.7,660.0 643.7,660.5 651.7,662.5 659.7,663.2 667.7,664.2 675.7,665.5 683.7,666.2 691.7,667.5 699.7,668.2 707.6,670.0 715.6,671.7 723.6,674.2 731.6,675.7 739.6,677.5 747.6,679.2 755.6,681.2 763.6,682.5 771.6,683.2 779.6,683.5 787.5,683.5 795.5,683.2 803.5,682.5 811.5,681.5 819.5,680.5 827.5,679.7 835.5,679.2 844.0,678.1 852.0,677.7 860.0,677.1 868.0,676.2 876.0,675.3 883.9,674.3 891.9,673.1 899.9,671.8 907.9,670.6 915.9,669.3 923.9,668.6 931.9,668.5 939.9,668.5 947.9,668.5 955.9,669.2 963.8,670.8 971.8,672.3 979.8,673.6 987.8,674.8 995.8,676.7 1003.8,678.6 1011.8,679.6 1019.8,681.2 1027.8,683.1 1035.8,684.1 1043.7,685.7 1051.7,687.6 1059.7,688.8 1067.7,690.6 1075.7,692.7 1083.7,694.3 1091.7,695.6 1099.7,696.6 1107.7,697.3 1115.7,697.9 1123.6,698.1 1131.6,697.7 1139.6,697.1 1147.6,696.2 1155.6,695.1 1163.6,693.8 1171.6,692.6 1179.6,691.4 1187.6,690.4 1195.6,689.6 1203.5,688.3 1211.1,686.5 1217.7,685.2 1223.5,683.3 1229.0,682.3 1235.3,680.3 1241.6,678.6 1247.1,676.1 1253.0,674.4 1259.5,672.5 1265.4,670.5 1271.3,668.5 1277.2,665.9 1283.7,664.6 1289.6,663.6 1297.0,662.4" fill="none" stroke="#ff0000" stroke-width="1.0" stroke-linejoin="round" stroke-dasharray="3 3" shape-rendering="crispEdges"/>
</svg>
<svg class="abs" style="left:7px;top:45px" width="10" height="7"><polygon points="0,6 4.5,0.5 9,6" fill="#000"/></svg>
<div class="t" id="title" style="left:22.2px;top:42px;letter-spacing:-0.13px">CHINA300-,H1</div>
<div class="t" id="title2" style="left:109.2px;top:42px;letter-spacing:0.385px">3250.9 3264.8 3247.2 3252.5</div>
<div class="t" id="macdt" style="left:8px;top:656px;letter-spacing:0.3px">MACD(12,26,9) 22.97 22.70</div>
<div class="ax" style="top:36px">3319.5</div>
<div class="ax" style="top:85px">3295.0</div>
<div class="ax" style="top:134px">3270.5</div>
<div class="ax" style="top:183px">3246.0</div>
<div class="ax" style="top:232px">3221.5</div>
<div class="ax" style="top:281px">3197.0</div>
<div class="ax" style="top:330px">3172.5</div>
<div class="ax" style="top:379px">3148.0</div>
<div class="ax" style="top:428px">3123.5</div>
<div class="ax" style="top:477px">3099.0</div>
<div class="ax" style="top:526px">3074.5</div>
<div class="ax" style="top:575px">3050.0</div>
<div class="ax" style="top:624px">3025.5</div>
<div class="ax" style="left:1637px;top:654.5px">35.36</div>
<div class="ax" style="left:1637px;top:672.5px">0.00</div>
<div class="ax" style="left:1637px;top:712.5px">-62.7</div>
<div class="lab" style="top:92px;background:#ff0000"><span>3291.8</span></div>
<div class="lab" style="top:169px;background:#000"><span>3252.5</span></div>
<div class="lab" style="top:216px;background:#00ff7f"><span>3229.4</span></div>
<div class="lab" style="top:300px;background:#0000ff"><span>3187.5</span></div>
<div class="lab" style="top:428px;background:#0000ff"><span>3123.5</span></div>
<div class="dt" style="left:3.5px">10 Oct 2018</div>
<div class="dt" style="left:99.5px">15 Oct 02:30</div>
<div class="dt" style="left:195.5px">18 Oct 02:30</div>
<div class="dt" style="left:291.5px">23 Oct 02:30</div>
<div class="dt" style="left:387.5px">26 Oct 02:30</div>
<div class="dt" style="left:483.5px">31 Oct 02:30</div>
<div class="dt" style="left:579.5px">5 Nov 02:30</div>
<div class="dt" style="left:675.5px">8 Nov 02:30</div>
<div class="dt" style="left:771.5px">13 Nov 02:30</div>
<div class="dt" style="left:867.5px">16 Nov 02:30</div>
<div class="dt" style="left:963.5px">21 Nov 02:30</div>
<div class="dt" style="left:1059.5px">26 Nov 02:30</div>
<div class="dt" style="left:1155.5px">29 Nov 02:30</div>
<div class="dt" style="left:1251.5px">4 Dec 02:30</div>
<div class="abs" style="left:5px;top:59px;width:287px;height:80px;background:#fff"></div>
<div class="abs" style="left:7px;top:61px;width:68px;height:27px;background:linear-gradient(#fa5252,#e23636);box-shadow:inset 1px 0 0 rgba(150,0,0,.4),inset -1px 0 0 rgba(150,0,0,.4),inset 0 1px 0 rgba(150,0,0,.4)"></div>
<div class="abs" style="left:222px;top:61px;width:68px;height:27px;background:linear-gradient(#fa5252,#e23636);box-shadow:inset 1px 0 0 rgba(150,0,0,.4),inset -1px 0 0 rgba(150,0,0,.4),inset 0 1px 0 rgba(150,0,0,.4)"></div>
<div class="abs" style="left:11px;top:87px;width:60px;height:1px;background:#8e0b0b"></div>
<div class="abs" style="left:226px;top:87px;width:60px;height:1px;background:#8e0b0b"></div>
<div class="abs" style="left:7px;top:88px;width:141px;height:49px;background:linear-gradient(#e23434,#c81a1a 55%,#aa0000);box-shadow:inset 1px 0 0 rgba(150,0,0,.4),inset -1px 0 0 rgba(150,0,0,.4),inset 0 -1px 0 rgba(150,0,0,.4)"></div>
<div class="abs" style="left:150px;top:88px;width:140px;height:49px;background:linear-gradient(#e23434,#c81a1a 55%,#aa0000);box-shadow:inset 1px 0 0 rgba(150,0,0,.4),inset -1px 0 0 rgba(150,0,0,.4),inset 0 -1px 0 rgba(150,0,0,.4)"></div>
<div class="abs" style="left:75px;top:88px;width:73px;height:1px;background:rgba(150,0,0,.4)"></div>
<div class="abs" style="left:150px;top:88px;width:72px;height:1px;background:rgba(150,0,0,.4)"></div>
<div class="abs" style="left:77px;top:61px;width:143px;height:25px;box-sizing:border-box;border:1px solid #b4b4b8;background:#fff"></div>
<div class="abs" style="left:79px;top:63px;width:22px;height:21px;background:linear-gradient(#f2f2f2 0,#ebebeb 45%,#d8d8d8 50%,#cfcfcf)"></div>
<div class="abs" style="left:101px;top:62px;width:1px;height:23px;background:#c4c4c8"></div>
<div class="abs" style="left:195px;top:62px;width:1px;height:23px;background:#c4c4c8"></div>
<div class="abs" style="left:196px;top:63px;width:22px;height:21px;background:linear-gradient(#f2f2f2 0,#ebebeb 45%,#d8d8d8 50%,#cfcfcf)"></div>
<svg class="abs" style="left:77px;top:61px" width="143" height="25"><polygon points="9,10.8 16,10.8 12.5,14.6" fill="#4a5fc8"/><polygon points="126.3,13.8 133.3,13.8 129.8,9.9" fill="#4a5fc8"/></svg>
<div class="abs" id="sell" style="left:7px;top:61px;width:68px;height:27px;line-height:27px;text-align:center;color:#fff;font-size:14.5px;transform:scaleX(.91)">SELL</div>
<div class="abs" id="buy" style="left:222px;top:61px;width:68px;height:27px;line-height:27px;text-align:center;color:#fff;font-size:14.5px;transform:scaleX(.95)">BUY</div>
<div class="abs" id="vol" style="left:101.5px;top:61.6px;width:90px;height:24px;line-height:24px;text-align:right;color:#000;font-size:16.5px;">1.00</div>
<div class="abs" id="p1" style="left:37px;top:112px;line-height:18px;color:#fff;font-size:15px;font-weight:bold;letter-spacing:0.6px">3251</div>
<div class="abs" id="p2" style="left:179.5px;top:112px;line-height:18px;color:#fff;font-size:15px;font-weight:bold;letter-spacing:0.6px">3256</div>
<svg class="abs" style="left:0;top:0" width="300" height="140" viewBox="0 0 300 140">
<rect x="79.1" y="121.1" width="5" height="4.9" rx="1.8" fill="#fff"/><rect x="221.8" y="121.1" width="5" height="4.9" rx="1.8" fill="#fff"/>
<text x="97.3" y="126.9" font-family="Liberation Sans, sans-serif" font-size="40" fill="#fff" text-anchor="middle">0</text>
<text x="240.7" y="126.9" font-family="Liberation Sans, sans-serif" font-size="40" fill="#fff" text-anchor="middle">6</text>
</svg>

<svg class="abs" style="left:0;top:0" width="1682" height="755" viewBox="0 0 1682 755"><text x="1331" y="197.3" font-family="Liberation Sans, Noto Sans CJK SC, sans-serif" font-size="25" fill="#ff1e00" textLength="184" lengthAdjust="spacingAndGlyphs">多空转折点3229</text></svg>
</body></html>
